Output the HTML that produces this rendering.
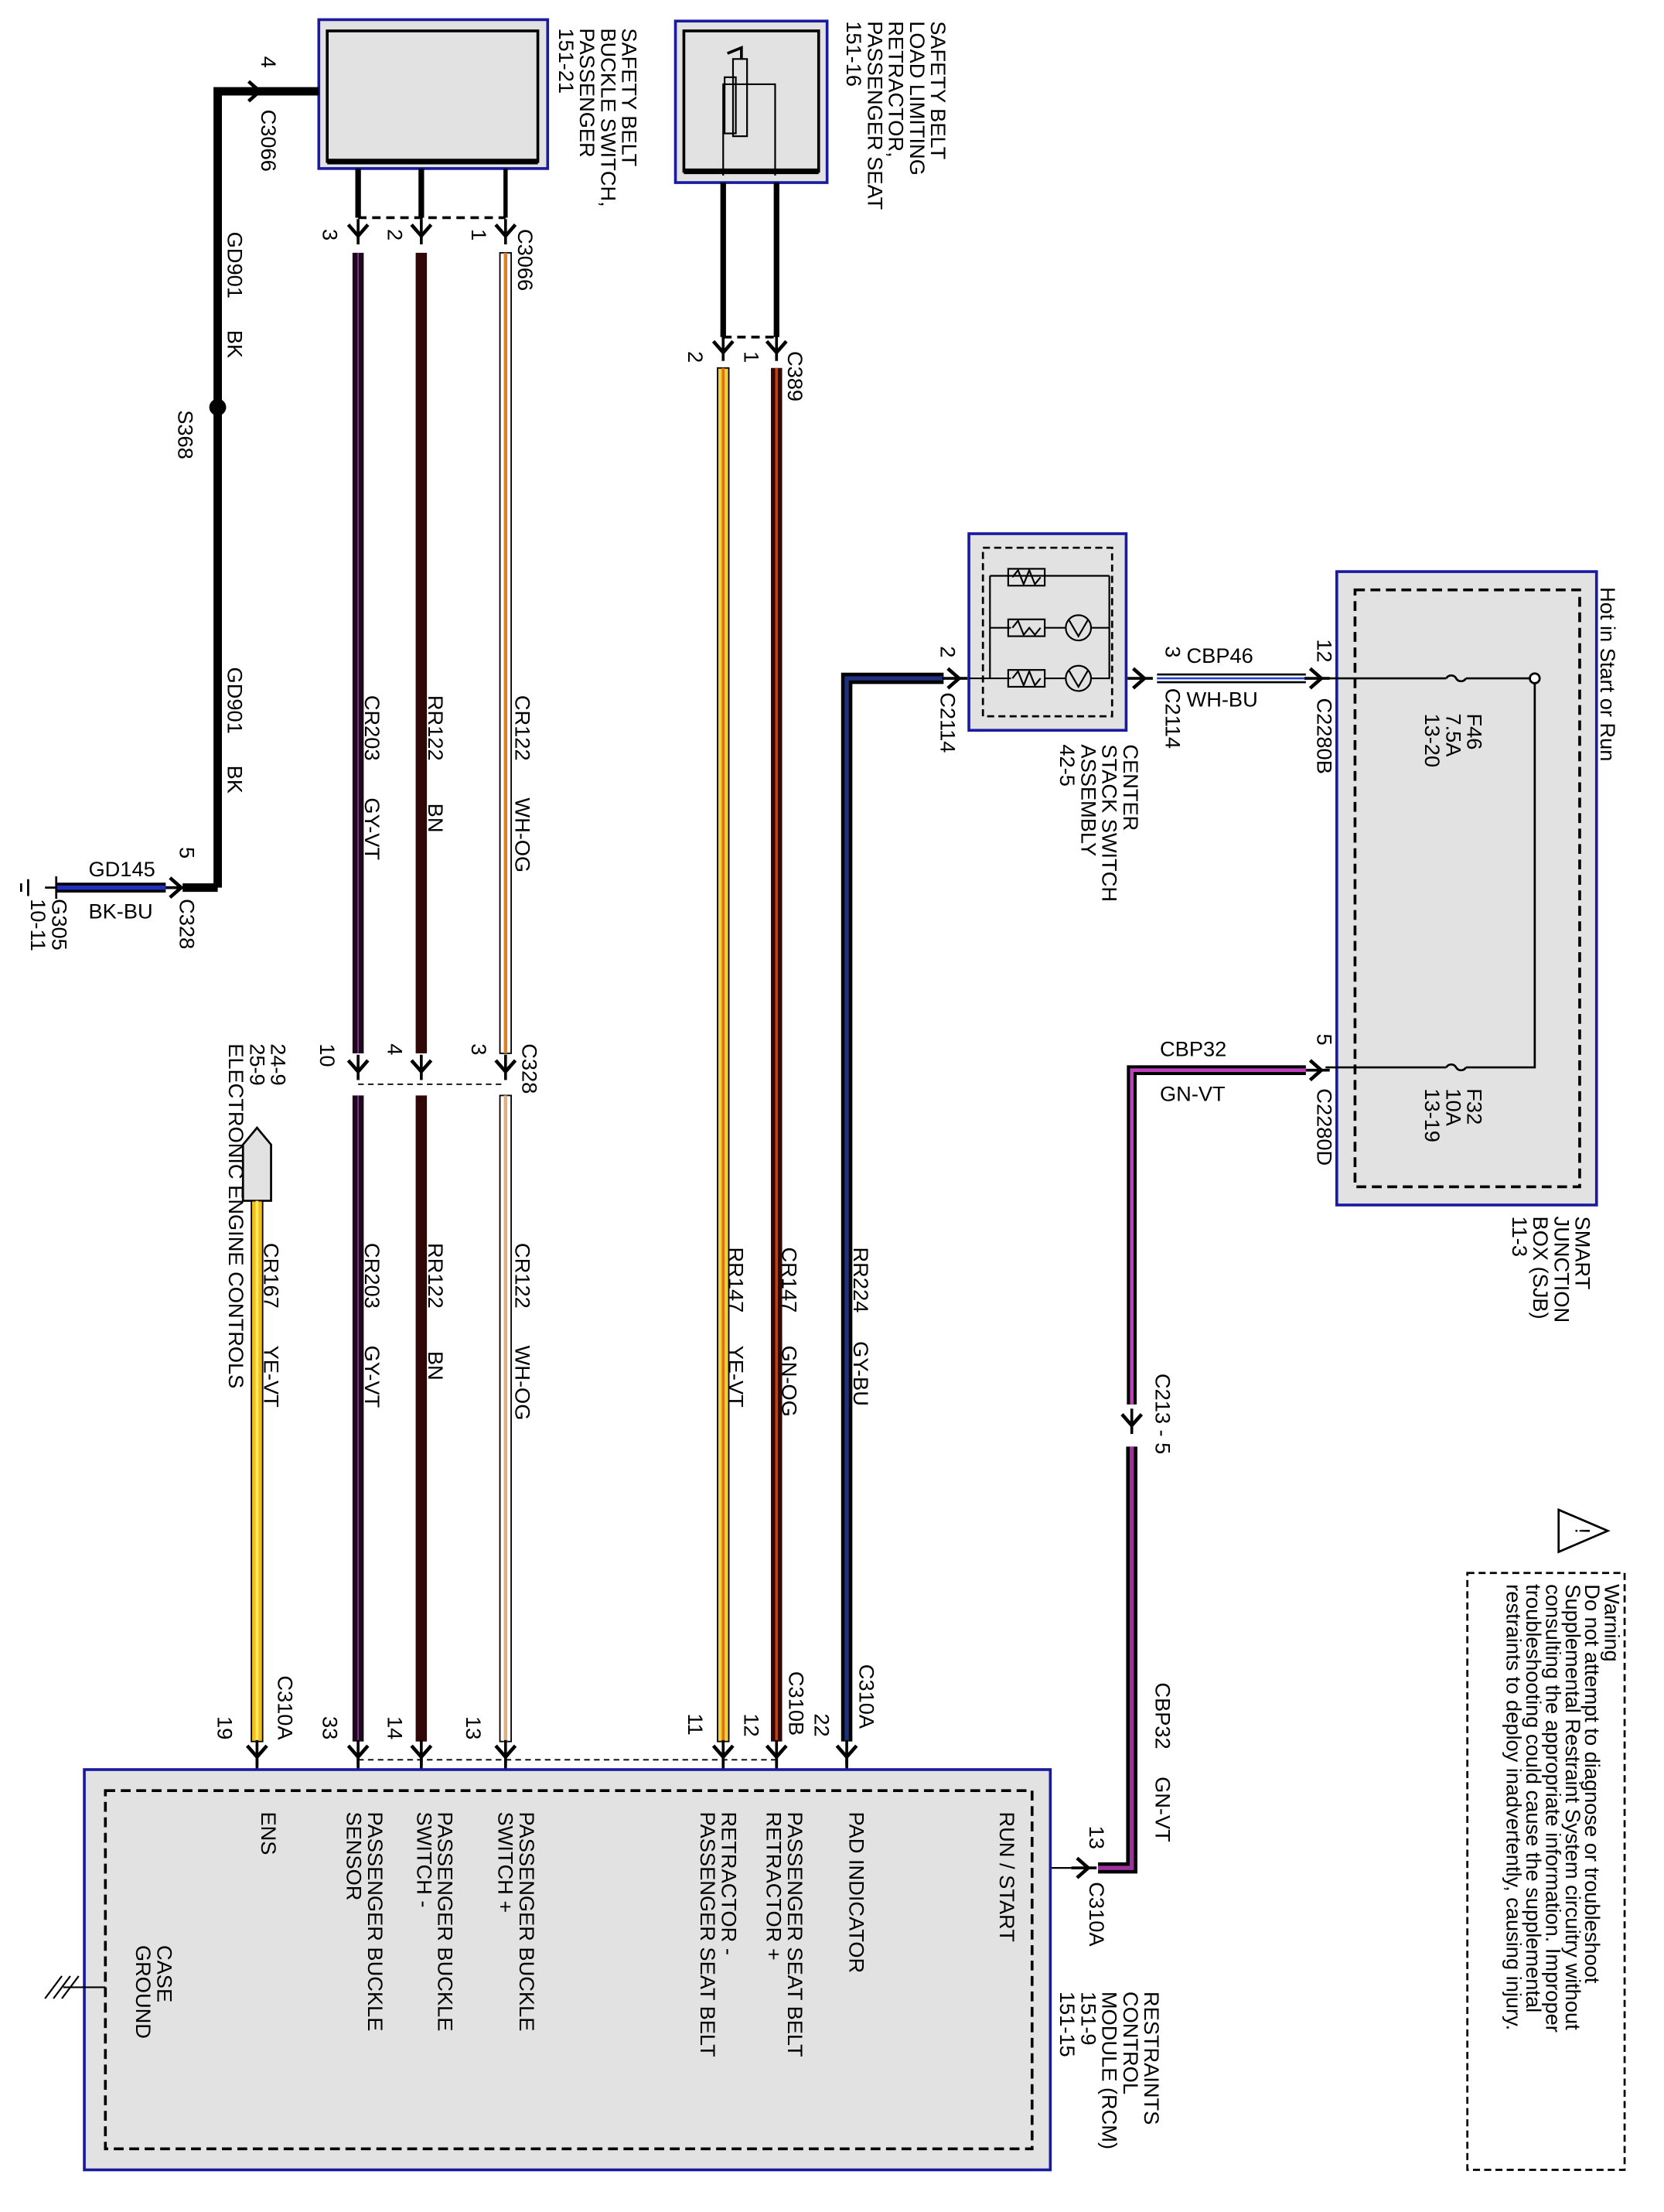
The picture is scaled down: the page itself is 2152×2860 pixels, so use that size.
<!DOCTYPE html>
<html><head><meta charset="utf-8"><style>
html,body{margin:0;padding:0;background:#fff}
svg{display:block}
text{font-family:"Liberation Sans",sans-serif;font-size:15px;fill:#000}
</style></head><body>
<svg width="2152" height="2860" viewBox="0 0 1185 1575" xmlns="http://www.w3.org/2000/svg">
<defs>
<g id="cv"><path d="M-7,-5 L0,3 L7,-5" fill="none" stroke="#000" stroke-width="2.5"/><path d="M0,-9 V9" stroke="#000" stroke-width="2"/></g>
<g id="ch"><path d="M-5,-7 L3,0 L-5,7" fill="none" stroke="#000" stroke-width="2.5"/><path d="M-9,0 H9" stroke="#000" stroke-width="2"/></g>
</defs>

<rect x="227" y="14" width="163" height="106" fill="#e2e2e2" stroke="#1a1aa0" stroke-width="2"/>
<rect x="233" y="22" width="150" height="93" fill="#e2e2e2" stroke="#000" stroke-width="2"/>
<line x1="233" y1="115" x2="383" y2="115" stroke="#000" stroke-width="4"/>
<rect x="481" y="15" width="108" height="115" fill="#e2e2e2" stroke="#1a1aa0" stroke-width="2"/>
<rect x="487" y="22" width="96" height="100" fill="#e2e2e2" stroke="#000" stroke-width="2"/>
<line x1="487" y1="122" x2="583" y2="122" stroke="#000" stroke-width="4"/>
<path d="M515,125 V105 M515,120 V60 H552 V125" fill="none" stroke="#000" stroke-width="1.2"/>
<rect x="516" y="55" width="8" height="40" fill="none" stroke="#000" stroke-width="1.2"/>
<rect x="522" y="42" width="10" height="55" fill="none" stroke="#000" stroke-width="1.2"/>
<path d="M528,42 V34 L518,38" fill="none" stroke="#000" stroke-width="2"/>

<path d="M155,632 V65 H227" fill="none" stroke="#000" stroke-width="6"/>
<use href="#ch" x="182" y="65"/>
<circle cx="155" cy="290" r="6" fill="#000"/>
<path d="M155,632 H130" fill="none" stroke="#000" stroke-width="6"/>
<use href="#ch" x="126" y="632"/>
<line x1="40" y1="632" x2="118" y2="632" stroke="#000" stroke-width="7"/>
<line x1="40" y1="632" x2="118" y2="632" stroke="#2030c0" stroke-width="3"/>
<path d="M40,624 V640 M32,632 H40 M20,626 V638 M15,629 V635" stroke="#000" stroke-width="1.5"/>

<g stroke="#000">
<line x1="255" y1="120" x2="255" y2="155" stroke-width="4"/>
<line x1="300" y1="120" x2="300" y2="155" stroke-width="4"/>
<line x1="360" y1="120" x2="360" y2="155" stroke-width="3"/>
</g>
<line x1="255" y1="155" x2="360" y2="155" stroke="#000" stroke-width="2" stroke-dasharray="6,4"/>
<use href="#cv" x="255" y="165"/><use href="#cv" x="300" y="165"/><use href="#cv" x="360" y="165"/>
<g>
<rect x="251" y="180" width="8" height="570" fill="#1a0a1a"/><line x1="255" y1="180" x2="255" y2="750" stroke="#9030a0" stroke-width="1"/>
<rect x="296" y="180" width="8" height="570" fill="#300808"/>
<rect x="356" y="180" width="8" height="570" fill="#fff" stroke="#000" stroke-width="1"/><line x1="360" y1="180" x2="360" y2="750" stroke="#e08020" stroke-width="2.5"/>
<rect x="251" y="780" width="8" height="460" fill="#1a0a1a"/><line x1="255" y1="780" x2="255" y2="1240" stroke="#9030a0" stroke-width="1"/>
<rect x="296" y="780" width="8" height="460" fill="#300808"/>
<rect x="356" y="780" width="8" height="460" fill="#fff" stroke="#000" stroke-width="1"/><line x1="360" y1="780" x2="360" y2="1240" stroke="#e0b080" stroke-width="2.5"/>
</g>
<line x1="255" y1="772" x2="360" y2="772" stroke="#000" stroke-width="1" stroke-dasharray="4,3"/>
<use href="#cv" x="255" y="760"/><use href="#cv" x="300" y="760"/><use href="#cv" x="360" y="760"/>
<use href="#cv" x="255" y="1248"/><use href="#cv" x="300" y="1248"/><use href="#cv" x="360" y="1248"/>
<line x1="255" y1="1252" x2="255" y2="1260" stroke="#000" stroke-width="2"/>
<line x1="300" y1="1252" x2="300" y2="1260" stroke="#000" stroke-width="2"/>
<line x1="360" y1="1252" x2="360" y2="1260" stroke="#000" stroke-width="2"/>

<line x1="515" y1="130" x2="515" y2="240" stroke="#000" stroke-width="4"/>
<line x1="553" y1="130" x2="553" y2="240" stroke="#000" stroke-width="4"/>
<line x1="515" y1="240" x2="553" y2="240" stroke="#000" stroke-width="2" stroke-dasharray="6,4"/>
<use href="#cv" x="515" y="248"/><use href="#cv" x="553" y="248"/>
<rect x="511" y="262" width="8" height="978" fill="#f0d040" stroke="#000" stroke-width="1"/><line x1="515" y1="262" x2="515" y2="1240" stroke="#e07010" stroke-width="2"/>
<rect x="549" y="262" width="8" height="978" fill="#300808"/><line x1="553" y1="262" x2="553" y2="1240" stroke="#c04010" stroke-width="2"/>
<use href="#cv" x="515" y="1248"/><use href="#cv" x="553" y="1248"/>
<line x1="515" y1="1252" x2="515" y2="1260" stroke="#000" stroke-width="2"/>
<line x1="553" y1="1252" x2="553" y2="1260" stroke="#000" stroke-width="2"/>
<line x1="255" y1="1253" x2="553" y2="1253" stroke="#000" stroke-width="1" stroke-dasharray="4,3"/>

<path d="M672,483 H603 V1240" fill="none" stroke="#000" stroke-width="8"/>
<path d="M672,483 H603 V1240" fill="none" stroke="#203080" stroke-width="3"/>
<use href="#ch" x="680" y="483"/>
<use href="#cv" x="603" y="1248"/>
<line x1="603" y1="1252" x2="603" y2="1260" stroke="#000" stroke-width="2"/>

<rect x="690" y="380" width="112" height="140" fill="#e2e2e2" stroke="#1a1aa0" stroke-width="2"/>
<rect x="700" y="390" width="92" height="120" fill="none" stroke="#000" stroke-width="1.5" stroke-dasharray="5,3"/>
<path d="M705,483 H690 M705,410 V483 M705,410 H790 M705,447 H720 M705,483 H720" fill="none" stroke="#000" stroke-width="1.2"/>
<g fill="none" stroke="#000" stroke-width="1.2">
<rect x="718" y="405" width="26" height="12"/><rect x="718" y="441" width="26" height="12"/><rect x="718" y="477" width="26" height="12"/>
<path d="M721,411 l4,-5 l4,10 l4,-10 l4,10 l4,-5 M721,447 l4,-5 l4,10 l4,-5 l4,5 l4,-5 M721,483 l4,-5 l4,10 l4,-10 l4,10 l4,-5"/>
<circle cx="768" cy="447" r="9"/><circle cx="768" cy="483" r="9"/>
<path d="M761,441 L768,453 L775,441 M761,477 L768,489 L775,477 M744,447 H759 M744,483 H759 M777,447 H790 V483 H777 M790,410 V447"/>
</g>
<use href="#ch" x="812" y="483"/>
<line x1="824" y1="483" x2="930" y2="483" stroke="#000" stroke-width="7"/>
<line x1="824" y1="483" x2="930" y2="483" stroke="#fff" stroke-width="4"/>
<line x1="824" y1="483" x2="930" y2="483" stroke="#2040d0" stroke-width="1.5"/>
<use href="#ch" x="938" y="483"/>

<rect x="952" y="407" width="185" height="451" fill="#e2e2e2" stroke="#1a1aa0" stroke-width="2"/>
<rect x="965" y="420" width="160" height="425" fill="none" stroke="#000" stroke-width="2" stroke-dasharray="7,4"/>
<path d="M944,483 H1030 M1044,483 H1093 V760 H1044 M1030,760 H944" fill="none" stroke="#000" stroke-width="1.5"/>
<path d="M1030,483 a4,4 0 0 1 7,0 a4,4 0 0 0 7,0 M1030,760 a4,4 0 0 1 7,0 a4,4 0 0 0 7,0" fill="none" stroke="#000" stroke-width="1.5"/>
<circle cx="1093" cy="483" r="3.5" fill="#fff" stroke="#000" stroke-width="1.5"/>
<use href="#ch" x="938" y="762"/>
<path d="M930,762 H806 V1000" fill="none" stroke="#000" stroke-width="7"/>
<path d="M930,762 H806 V1000" fill="none" stroke="#c040c0" stroke-width="2.5"/>
<use href="#cv" x="806" y="1012"/>
<path d="M806,1030 V1330 H782" fill="none" stroke="#000" stroke-width="8"/>
<path d="M806,1030 V1330 H782" fill="none" stroke="#a030a0" stroke-width="3"/>
<use href="#ch" x="772" y="1330"/>
<line x1="735" y1="1330" x2="766" y2="1330" stroke="#000" stroke-width="1.2"/>

<path d="M173,855 V815 L183,803 L193,815 V855 Z" fill="#e2e2e2" stroke="#000" stroke-width="1.5"/>
<rect x="179" y="855" width="8" height="385" fill="#f0c020" stroke="#000" stroke-width="1"/><line x1="183" y1="855" x2="183" y2="1240" stroke="#ffea60" stroke-width="2"/>
<use href="#cv" x="183" y="1248"/>
<line x1="183" y1="1252" x2="183" y2="1260" stroke="#000" stroke-width="2"/>

<rect x="60" y="1260" width="688" height="285" fill="#e2e2e2" stroke="#1a1aa0" stroke-width="2"/>
<rect x="75" y="1275" width="660" height="255" fill="none" stroke="#000" stroke-width="2" stroke-dasharray="7,4"/>
<path d="M75,1415 H60 M60,1415 H45 M50,1407 L38,1423 M56,1407 L44,1423 M44,1407 L32,1423" fill="none" stroke="#000" stroke-width="1.2"/>

<rect x="1045" y="1120" width="112" height="425" fill="none" stroke="#000" stroke-width="1.5" stroke-dasharray="5,3"/>
<path d="M1110,1075 L1145,1090 L1110,1105 Z" fill="none" stroke="#000" stroke-width="1.5"/>
<text transform="translate(1122,1090) rotate(90)" text-anchor="middle" font-size="14">!</text>

<g font-size="15.5">
<text transform="translate(443,20) rotate(90)"><tspan x="0">SAFETY BELT</tspan><tspan x="0" dy="15">BUCKLE SWITCH,</tspan><tspan x="0" dy="15">PASSENGER</tspan><tspan x="0" dy="15">151-21</tspan></text>
<text transform="translate(663,15) rotate(90)"><tspan x="0">SAFETY BELT</tspan><tspan x="0" dy="15">LOAD LIMITING</tspan><tspan x="0" dy="15">RETRACTOR,</tspan><tspan x="0" dy="15">PASSENGER SEAT</tspan><tspan x="0" dy="15">151-16</tspan></text>
<text transform="translate(369,163) rotate(90)">C3066</text>
<text transform="translate(230,163) rotate(90)">3</text>
<text transform="translate(276,163) rotate(90)">2</text>
<text transform="translate(336,163) rotate(90)">1</text>
<text transform="translate(561,250) rotate(90)">C389</text>
<text transform="translate(530,250) rotate(90)">1</text>
<text transform="translate(490,250) rotate(90)">2</text>
<text transform="translate(186,40) rotate(90)">4</text>
<text transform="translate(186,78) rotate(90)">C3066</text>
<text transform="translate(162,165) rotate(90)">GD901</text>
<text transform="translate(162,235) rotate(90)">BK</text>
<text transform="translate(127,292) rotate(90)">S368</text>
<text transform="translate(162,475) rotate(90)">GD901</text>
<text transform="translate(162,545) rotate(90)">BK</text>
<text transform="translate(128,603) rotate(90)">5</text>
<text transform="translate(128,640) rotate(90)">C328</text>
<text transform="translate(37,640) rotate(90)"><tspan x="0">G305</tspan><tspan x="0" dy="15">10-11</tspan></text>
<text transform="translate(260,495) rotate(90)">CR203</text><text transform="translate(260,568) rotate(90)">GY-VT</text>
<text transform="translate(305,495) rotate(90)">RR122</text><text transform="translate(305,572) rotate(90)">BN</text>
<text transform="translate(367,495) rotate(90)">CR122</text><text transform="translate(367,568) rotate(90)">WH-OG</text>
<text transform="translate(260,885) rotate(90)">CR203</text><text transform="translate(260,958) rotate(90)">GY-VT</text>
<text transform="translate(305,885) rotate(90)">RR122</text><text transform="translate(305,962) rotate(90)">BN</text>
<text transform="translate(367,885) rotate(90)">CR122</text><text transform="translate(367,958) rotate(90)">WH-OG</text>
<text transform="translate(519,888) rotate(90)">RR147</text><text transform="translate(519,958) rotate(90)">YE-VT</text>
<text transform="translate(557,888) rotate(90)">CR147</text><text transform="translate(557,958) rotate(90)">GN-OG</text>
<text transform="translate(608,888) rotate(90)">RR224</text><text transform="translate(608,955) rotate(90)">GY-BU</text>
<text transform="translate(188,885) rotate(90)">CR167</text><text transform="translate(188,958) rotate(90)">YE-VT</text>
<text transform="translate(372,743) rotate(90)">C328</text>
<text transform="translate(228,743) rotate(90)">10</text>
<text transform="translate(276,743) rotate(90)">4</text>
<text transform="translate(336,743) rotate(90)">3</text>
<text transform="translate(193,743) rotate(90)"><tspan x="0">24-9</tspan><tspan x="0" dy="15">25-9</tspan><tspan x="0" dy="15">ELECTRONIC ENGINE CONTROLS</tspan></text>
<text transform="translate(612,1185) rotate(90)">C310A</text>
<text transform="translate(580,1220) rotate(90)">22</text>
<text transform="translate(562,1190) rotate(90)">C310B</text>
<text transform="translate(530,1220) rotate(90)">12</text>
<text transform="translate(490,1220) rotate(90)">11</text>
<text transform="translate(332,1222) rotate(90)">13</text>
<text transform="translate(276,1222) rotate(90)">14</text>
<text transform="translate(230,1222) rotate(90)">33</text>
<text transform="translate(198,1193) rotate(90)">C310A</text>
<text transform="translate(155,1222) rotate(90)">19</text>
<text transform="translate(712,1290) rotate(90)">RUN / START</text>
<text transform="translate(605,1290) rotate(90)">PAD INDICATOR</text>
<text transform="translate(561,1290) rotate(90)"><tspan x="0">PASSENGER SEAT BELT</tspan><tspan x="0" dy="15">RETRACTOR +</tspan></text>
<text transform="translate(514,1290) rotate(90)"><tspan x="0">RETRACTOR -</tspan><tspan x="0" dy="15">PASSENGER SEAT BELT</tspan></text>
<text transform="translate(370,1290) rotate(90)"><tspan x="0">PASSENGER BUCKLE</tspan><tspan x="0" dy="15">SWITCH +</tspan></text>
<text transform="translate(312,1290) rotate(90)"><tspan x="0">PASSENGER BUCKLE</tspan><tspan x="0" dy="15">SWITCH -</tspan></text>
<text transform="translate(262,1290) rotate(90)"><tspan x="0">PASSENGER BUCKLE</tspan><tspan x="0" dy="15">SENSOR</tspan></text>
<text transform="translate(186,1290) rotate(90)">ENS</text>
<text transform="translate(112,1385) rotate(90)"><tspan x="0">CASE</tspan><tspan x="0" dy="15">GROUND</tspan></text>
<text transform="translate(815,1418) rotate(90)"><tspan x="0">RESTRAINTS</tspan><tspan x="0" dy="15">CONTROL</tspan><tspan x="0" dy="15">MODULE (RCM)</tspan><tspan x="0" dy="15">151-9</tspan><tspan x="0" dy="15">151-15</tspan></text>
<text transform="translate(776,1300) rotate(90)">13</text>
<text transform="translate(776,1340) rotate(90)">C310A</text>
<text transform="translate(823,1198) rotate(90)">CBP32</text>
<text transform="translate(823,1265) rotate(90)">GN-VT</text>
<text transform="translate(823,978) rotate(90)">C213 - 5</text>
<text transform="translate(938,736) rotate(90)">5</text>
<text transform="translate(938,775) rotate(90)">C2280D</text>
<text transform="translate(938,455) rotate(90)">12</text>
<text transform="translate(938,497) rotate(90)">C2280B</text>
<text transform="translate(830,460) rotate(90)">3</text>
<text transform="translate(830,490) rotate(90)">C2114</text>
<text transform="translate(670,460) rotate(90)">2</text>
<text transform="translate(670,493) rotate(90)">C2114</text>
<text transform="translate(800,530) rotate(90)"><tspan x="0">CENTER</tspan><tspan x="0" dy="15">STACK SWITCH</tspan><tspan x="0" dy="15">ASSEMBLY</tspan><tspan x="0" dy="15">42-5</tspan></text>
<text transform="translate(1045,508) rotate(90)"><tspan x="0">F46</tspan><tspan x="0" dy="15">7.5A</tspan><tspan x="0" dy="15">13-20</tspan></text>
<text transform="translate(1045,775) rotate(90)"><tspan x="0">F32</tspan><tspan x="0" dy="15">10A</tspan><tspan x="0" dy="15">13-19</tspan></text>
<text transform="translate(1140,418) rotate(90)">Hot in Start or Run</text>
<text transform="translate(1122,866) rotate(90)"><tspan x="0">SMART</tspan><tspan x="0" dy="15">JUNCTION</tspan><tspan x="0" dy="15">BOX (SJB)</tspan><tspan x="0" dy="15">11-3</tspan></text>
<text transform="translate(1143,1128) rotate(90)" font-size="13.5"><tspan x="0">Warning</tspan><tspan x="0" dy="14">Do not attempt to diagnose or troubleshoot</tspan><tspan x="0" dy="14">Supplemental Restraint System circuitry without</tspan><tspan x="0" dy="14">consulting the appropriate information. Improper</tspan><tspan x="0" dy="14">troubleshooting could cause the supplemental</tspan><tspan x="0" dy="14">restraints to deploy inadvertently, causing injury.</tspan></text>
</g>
<g font-size="15.5">
<text x="845" y="472">CBP46</text>
<text x="845" y="503">WH-BU</text>
<text x="826" y="752">CBP32</text>
<text x="826" y="784">GN-VT</text>
<text x="63" y="624">GD145</text>
<text x="63" y="654">BK-BU</text>
</g>
</svg>
</body></html>
